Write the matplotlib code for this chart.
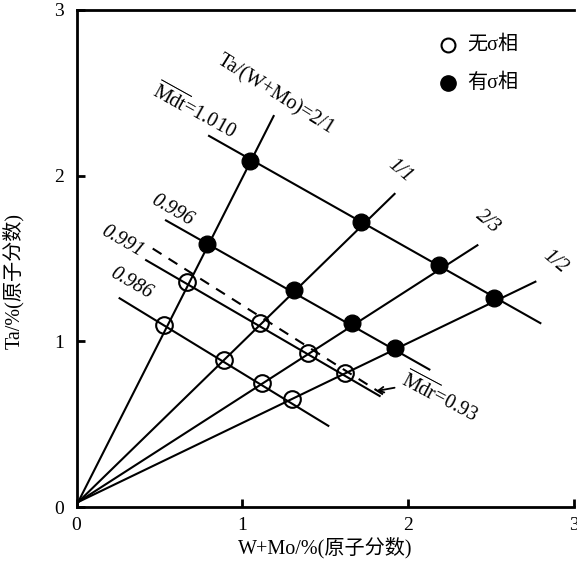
import matplotlib.pyplot as plt

plt.rcParams['font.family'] = ['Liberation Serif', 'Noto Sans CJK SC']
plt.rcParams['mathtext.fontset'] = 'custom'
plt.rcParams['mathtext.rm'] = 'Liberation Serif'
plt.rcParams['mathtext.it'] = 'Liberation Serif:italic'

# 有σ相 (filled) and 无σ相 (open) alloys
sigma_x = [1.05, 0.79, 1.31, 1.66, 1.92, 1.72, 2.19, 2.52]
sigma_y = [2.09, 1.59, 1.31, 1.11, 0.96, 1.72, 1.46, 1.26]
nosigma_x = [0.67, 1.11, 1.40, 1.62, 0.53, 0.89, 1.12, 1.30]
nosigma_y = [1.36, 1.11, 0.93, 0.81, 1.10, 0.89, 0.75, 0.65]

# Ta/(W+Mo) rays: origin -> far end
ray_labels = ['Ta/(W+Mo)=2/1', '1/1', '2/3', '1/2']
ray_end_x = [1.19, 1.92, 2.42, 2.77]
ray_end_y = [2.36, 1.89, 1.58, 1.36]

# iso-Md lines: start/end points
md_labels = ['$\\overline{\\mathrm{Mdt}}$=1.010', '0.996', '0.991', '0.986']
md_x0 = [0.80, 0.54, 0.42, 0.26]
md_y0 = [2.24, 1.73, 1.49, 1.26]
md_x1 = [2.80, 2.13, 1.83, 1.52]
md_y1 = [1.11, 0.83, 0.67, 0.49]

# critical Mdr line (dashed)
mdr_x = [0.46, 1.85]
mdr_y = [1.56, 0.68]

fig = plt.figure(figsize=(5.77, 5.64), dpi=100)
ax = fig.add_axes([76.5 / 577, 57 / 564, 497 / 577, 497 / 564])
ax.set_xlim(0, 3)
ax.set_ylim(0, 3)

lw = 1.5
for ex, ey in zip(ray_end_x, ray_end_y):
    ax.plot([0.01, ex], [0.03, ey], color='black', lw=lw)
for x0, y0, x1, y1 in zip(md_x0, md_y0, md_x1, md_y1):
    ax.plot([x0, x1], [y0, y1], color='black', lw=lw)
ax.plot(mdr_x, mdr_y, color='black', lw=lw, ls=(0, (5, 4)))

ax.plot(nosigma_x, nosigma_y, 'o', ms=12, mfc='none', mec='black', mew=1.5)
ax.plot(sigma_x, sigma_y, 'o', ms=12, mfc='black', mec='black')

# arrow pointing at the Mdr line
ax.annotate('', xy=(1.81, 0.70), xytext=(1.92, 0.72),
            arrowprops=dict(arrowstyle='->', color='black', lw=1.3,
                            shrinkA=0, shrinkB=0))

fs = 14.5
ax.text(1.20, 2.49, ray_labels[0], rotation=-32, fontsize=fs,
        ha='center', va='center')
ax.text(1.955, 2.03, ray_labels[1], rotation=-40, fontsize=fs,
        ha='center', va='center', style='italic')
ax.text(2.48, 1.72, ray_labels[2], rotation=-40, fontsize=fs,
        ha='center', va='center', style='italic')
ax.text(2.89, 1.48, ray_labels[3], rotation=-40, fontsize=fs,
        ha='center', va='center', style='italic')

ax.text(0.71, 2.39, md_labels[0], rotation=-29, fontsize=fs,
        ha='center', va='center')
ax.text(0.58, 1.79, md_labels[1], rotation=-30, fontsize=fs,
        ha='center', va='center', style='italic')
ax.text(0.275, 1.60, md_labels[2], rotation=-30, fontsize=fs,
        ha='center', va='center', style='italic')
ax.text(0.33, 1.35, md_labels[3], rotation=-30, fontsize=fs,
        ha='center', va='center', style='italic')
ax.text(2.19, 0.66, '$\\overline{\\mathrm{Mdr}}$=0.93', rotation=-28,
        fontsize=fs, ha='center', va='center')

# legend
ax.plot([2.245], [2.79], 'o', ms=10, mfc='none', mec='black', mew=1.5)
ax.plot([2.245], [2.56], 'o', ms=11, mfc='black', mec='black')
ax.text(2.36, 2.79, '无σ相', fontsize=fs, va='center')
ax.text(2.36, 2.56, '有σ相', fontsize=fs, va='center')

ax.set_xticks([0, 1, 2, 3])
ax.set_yticks([0, 1, 2, 3])
ax.tick_params(direction='in', length=6, width=2, labelsize=14)
ax.tick_params(axis='x', pad=7)
ax.tick_params(axis='y', pad=9)
for side in ['left', 'bottom', 'top']:
    ax.spines[side].set_linewidth(2)
ax.spines['right'].set_visible(False)

ax.set_xlabel('W+Mo/%(原子分数)', fontsize=fs, labelpad=2)
ax.set_ylabel('Ta/%(原子分数)', fontsize=fs)
ax.yaxis.set_label_coords(-0.105, 0.455)

fig.savefig('out.png', dpi=100)
